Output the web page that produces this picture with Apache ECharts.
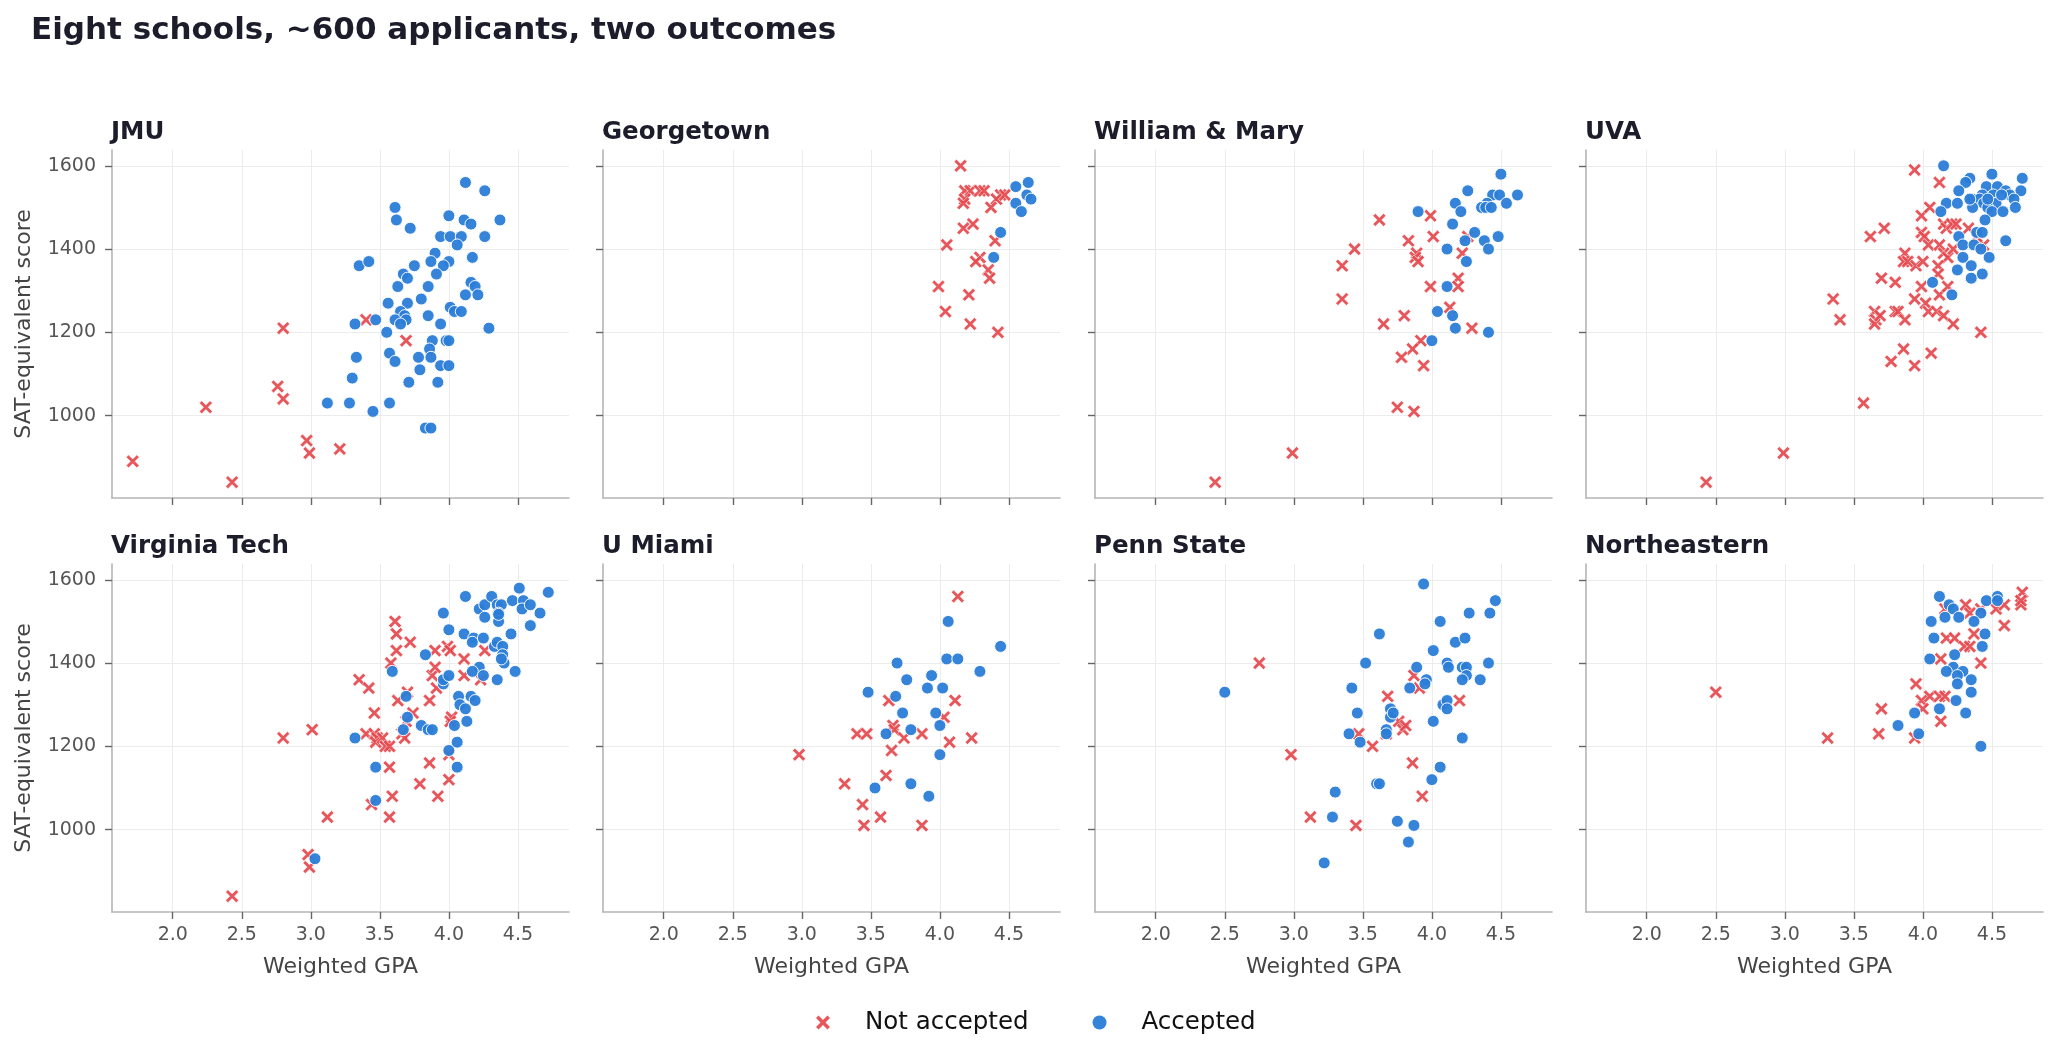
<!DOCTYPE html>
<html>
<head>
<meta charset="utf-8">
<title>Eight schools</title>
<script src="https://cdn.jsdelivr.net/npm/echarts@6/dist/echarts.min.js"></script>
<style>
  html, body { margin: 0; padding: 0; background: #fff; }
  #chart { width: 2059px; height: 1059px; }
</style>
</head>
<body>
<div id="chart"></div>
<script>
// schools in panel order (row by row)
var schools = ['JMU', 'Georgetown', 'William & Mary', 'UVA', 'Virginia Tech', 'U Miami', 'Penn State', 'Northeastern'];
var gpaTicks = [2.0, 2.5, 3.0, 3.5, 4.0, 4.5];
var satTicks = [1000, 1200, 1400, 1600];

// [weighted GPA, SAT-equivalent score]
var jmuRejected = [[1.71,890],[2.24,1020],[2.43,840],[2.80,1210],[2.76,1070],[2.80,1040],[2.97,940],[2.99,910],[3.21,920],[3.40,1230],[3.69,1180]];
var jmuAccepted = [[4.12,1560],[4.26,1540],[3.61,1500],[3.62,1470],[3.72,1450],[4.00,1480],[4.11,1470],[4.16,1460],[4.37,1470],[3.94,1430],[4.01,1430],[4.09,1430],[4.26,1430],[4.06,1410],[3.90,1390],[4.17,1380],[3.35,1360],[3.42,1370],[3.87,1370],[4.00,1370],[3.75,1360],[3.96,1360],[3.67,1340],[3.70,1330],[3.91,1340],[3.63,1310],[3.85,1310],[4.16,1320],[4.19,1310],[4.21,1290],[4.12,1290],[3.80,1280],[3.56,1270],[3.70,1270],[4.01,1260],[4.04,1250],[4.09,1250],[3.65,1250],[3.68,1240],[3.85,1240],[3.61,1230],[3.69,1230],[3.47,1230],[3.32,1220],[3.65,1220],[3.94,1220],[4.29,1210],[3.55,1200],[3.88,1180],[3.98,1180],[4.00,1180],[3.86,1160],[3.33,1140],[3.57,1150],[3.61,1130],[3.78,1140],[3.87,1140],[3.79,1110],[3.94,1120],[4.00,1120],[3.30,1090],[3.71,1080],[3.92,1080],[3.12,1030],[3.28,1030],[3.57,1030],[3.45,1010],[3.83,970],[3.87,970]];

var gtRejected = [[4.15,1600],[4.18,1540],[4.22,1540],[4.29,1540],[4.32,1540],[4.18,1520],[4.44,1530],[4.41,1520],[4.47,1530],[4.17,1510],[4.37,1500],[4.24,1460],[4.17,1450],[4.05,1410],[4.40,1420],[4.29,1380],[4.26,1370],[4.35,1350],[4.36,1330],[3.99,1310],[4.21,1290],[4.04,1250],[4.22,1220],[4.42,1200]];
var gtAccepted = [[4.64,1560],[4.55,1550],[4.63,1530],[4.66,1520],[4.55,1510],[4.59,1490],[4.44,1440],[4.39,1380]];

var wmRejected = [[2.43,840],[2.99,910],[3.35,1360],[3.44,1400],[3.35,1280],[3.62,1470],[3.65,1220],[3.80,1240],[3.83,1420],[3.89,1390],[3.88,1380],[3.90,1370],[3.99,1480],[4.01,1430],[3.99,1310],[3.92,1180],[3.86,1160],[3.78,1140],[3.94,1120],[3.75,1020],[3.87,1010],[4.13,1260],[4.19,1330],[4.19,1310],[4.22,1390],[4.26,1430],[4.29,1210]];
var wmAccepted = [[4.50,1580],[4.26,1540],[4.44,1530],[4.49,1530],[4.62,1530],[4.17,1510],[4.40,1510],[4.54,1510],[4.36,1500],[4.39,1500],[4.43,1500],[3.90,1490],[4.21,1490],[4.15,1460],[4.31,1440],[4.48,1430],[4.24,1420],[4.38,1420],[4.11,1400],[4.41,1400],[4.25,1370],[4.11,1310],[4.04,1250],[4.15,1240],[4.17,1210],[4.41,1200],[4.00,1180]];

var uvaRejected = [[2.43,840],[2.99,910],[3.57,1030],[3.35,1280],[3.40,1230],[3.62,1430],[3.72,1450],[3.94,1590],[4.12,1560],[3.70,1330],[3.80,1320],[3.65,1250],[3.66,1230],[3.65,1220],[3.69,1240],[3.80,1250],[3.82,1250],[3.87,1230],[3.87,1390],[3.86,1370],[3.89,1370],[3.95,1360],[4.00,1370],[3.94,1280],[3.99,1310],[4.02,1270],[4.04,1250],[4.10,1250],[4.12,1290],[4.15,1240],[4.18,1310],[4.22,1220],[4.42,1200],[3.77,1130],[3.86,1160],[3.94,1120],[4.06,1150],[3.99,1480],[4.05,1500],[3.99,1440],[4.01,1430],[4.04,1410],[4.12,1410],[4.15,1460],[4.17,1450],[4.21,1460],[4.24,1460],[4.33,1450],[4.15,1390],[4.18,1380],[4.22,1400],[4.11,1360],[4.11,1340],[4.44,1410],[4.39,1430]];
var uvaAccepted = [[4.15,1600],[4.50,1580],[4.72,1570],[4.34,1570],[4.31,1560],[4.26,1540],[4.46,1550],[4.54,1550],[4.71,1540],[4.60,1540],[4.43,1530],[4.51,1530],[4.63,1530],[4.36,1520],[4.41,1520],[4.66,1520],[4.17,1510],[4.25,1510],[4.44,1510],[4.53,1510],[4.36,1500],[4.47,1500],[4.67,1500],[4.13,1490],[4.50,1490],[4.58,1490],[4.45,1470],[4.26,1430],[4.39,1440],[4.43,1440],[4.29,1410],[4.37,1410],[4.60,1420],[4.42,1400],[4.29,1380],[4.48,1380],[4.35,1360],[4.25,1350],[4.43,1340],[4.35,1330],[4.07,1320],[4.21,1290],[4.34,1520],[4.47,1520],[4.57,1530]];

var vtRejected = [[2.43,840],[2.80,1220],[3.01,1240],[2.98,940],[2.99,910],[3.12,1030],[3.35,1360],[3.42,1340],[3.46,1280],[3.40,1230],[3.46,1230],[3.48,1220],[3.47,1210],[3.52,1220],[3.54,1200],[3.57,1200],[3.44,1060],[3.57,1150],[3.59,1080],[3.57,1030],[3.61,1500],[3.62,1470],[3.62,1430],[3.58,1400],[3.72,1450],[3.63,1310],[3.70,1330],[3.74,1280],[3.66,1230],[3.68,1220],[3.69,1260],[3.79,1110],[3.86,1160],[3.92,1080],[3.86,1310],[3.88,1370],[3.90,1390],[3.91,1340],[3.90,1430],[3.99,1440],[4.01,1430],[4.00,1120],[4.00,1180],[4.02,1270],[4.01,1260],[4.11,1410],[4.11,1370],[4.23,1360],[4.26,1430]];
var vtAccepted = [[3.03,930],[3.32,1220],[3.47,1150],[3.47,1070],[3.59,1380],[3.69,1320],[3.70,1270],[3.67,1240],[3.80,1250],[3.85,1240],[3.88,1240],[3.83,1420],[3.96,1350],[3.96,1360],[4.00,1370],[3.96,1520],[4.00,1480],[4.00,1190],[4.06,1150],[4.06,1210],[4.04,1250],[4.13,1260],[4.07,1320],[4.08,1300],[4.12,1290],[4.16,1320],[4.19,1310],[4.11,1470],[4.18,1460],[4.17,1450],[4.25,1460],[4.22,1390],[4.17,1380],[4.25,1370],[4.35,1360],[4.12,1560],[4.22,1530],[4.26,1540],[4.26,1510],[4.31,1560],[4.35,1540],[4.38,1540],[4.36,1520],[4.36,1500],[4.36,1517],[4.46,1550],[4.51,1580],[4.54,1550],[4.53,1530],[4.59,1540],[4.66,1520],[4.72,1570],[4.59,1490],[4.45,1470],[4.33,1440],[4.35,1450],[4.39,1440],[4.39,1420],[4.40,1400],[4.48,1380],[4.38,1410]];

var umRejected = [[2.98,1180],[3.31,1110],[3.40,1230],[3.47,1230],[3.44,1060],[3.45,1010],[3.57,1030],[3.61,1130],[3.65,1190],[3.63,1310],[3.66,1250],[3.67,1240],[3.74,1220],[3.87,1230],[3.87,1010],[4.03,1270],[4.07,1210],[4.11,1310],[4.13,1560],[4.23,1220]];
var umAccepted = [[4.06,1500],[4.44,1440],[4.05,1410],[4.13,1410],[3.69,1400],[4.29,1380],[3.94,1370],[3.76,1360],[3.91,1340],[4.02,1340],[3.48,1330],[3.68,1320],[3.73,1280],[3.97,1280],[4.00,1250],[3.79,1240],[3.61,1230],[4.00,1180],[3.53,1100],[3.79,1110],[3.92,1080]];

var psRejected = [[2.75,1400],[2.98,1180],[3.12,1030],[3.45,1010],[3.47,1230],[3.57,1200],[3.68,1320],[3.76,1260],[3.79,1240],[3.81,1250],[3.86,1160],[3.87,1370],[3.91,1340],[3.93,1080],[4.20,1310],[3.67,1230]];
var psAccepted = [[2.50,1330],[3.22,920],[3.28,1030],[3.30,1090],[3.40,1230],[3.48,1210],[3.46,1280],[3.42,1340],[3.52,1400],[3.62,1470],[3.60,1110],[3.62,1110],[3.67,1240],[3.67,1230],[3.70,1290],[3.70,1270],[3.72,1280],[3.75,1020],[3.83,970],[3.87,1010],[3.84,1340],[3.89,1390],[3.94,1590],[3.96,1360],[3.95,1350],[4.01,1430],[4.06,1500],[4.01,1260],[4.00,1120],[4.06,1150],[4.08,1300],[4.11,1310],[4.11,1290],[4.11,1400],[4.12,1390],[4.17,1450],[4.24,1460],[4.22,1390],[4.25,1390],[4.25,1370],[4.22,1360],[4.22,1220],[4.27,1520],[4.35,1360],[4.41,1400],[4.42,1520],[4.46,1550]];

var neRejected = [[2.50,1330],[3.31,1220],[3.68,1230],[3.70,1290],[3.94,1220],[3.95,1350],[3.99,1310],[4.00,1290],[4.05,1320],[4.12,1320],[4.16,1320],[4.13,1260],[4.13,1410],[4.17,1460],[4.23,1460],[4.30,1440],[4.34,1440],[4.37,1470],[4.42,1400],[4.31,1540],[4.34,1520],[4.42,1530],[4.53,1530],[4.59,1540],[4.59,1490],[4.71,1540],[4.72,1570],[4.71,1550],[4.16,1530]];
var neAccepted = [[4.12,1560],[4.19,1540],[4.22,1530],[4.16,1510],[4.26,1510],[4.06,1500],[4.42,1520],[4.37,1500],[4.46,1550],[4.54,1560],[4.54,1550],[4.08,1460],[4.45,1470],[4.43,1440],[4.23,1420],[4.05,1410],[4.22,1390],[4.29,1380],[4.17,1380],[4.25,1370],[4.35,1360],[4.25,1350],[4.35,1330],[4.24,1310],[4.12,1290],[3.94,1280],[4.31,1280],[3.82,1250],[3.97,1230],[4.42,1200]];

var rejected = [jmuRejected, gtRejected, wmRejected, uvaRejected, vtRejected, umRejected, psRejected, neRejected];
var accepted = [jmuAccepted, gtAccepted, wmAccepted, uvaAccepted, vtAccepted, umAccepted, psAccepted, neAccepted];

(function () {
    var chartDom = document.getElementById('chart');
    var myChart = echarts.init(chartDom, null, { renderer: 'canvas' });

    var FONT = 'DejaVu Sans';
    var RED = '#e5484d';
    var BLUE = '#2b7dd8';
    var xMark = 'path://M1.8,0 L5,3.2 L8.2,0 L10,1.8 L6.8,5 L10,8.2 L8.2,10 L5,6.8 L1.8,10 L0,8.2 L3.2,5 L0,1.8 Z';

    var lefts = [112, 603, 1095, 1586];
    var tops = [150, 564];
    var W = 457, H = 348;

    var grids = [], xAxes = [], yAxes = [], series = [];
    var titles = [{
        text: 'Eight schools, ~600 applicants, two outcomes',
        left: 31, top: 15, padding: 0,
        textStyle: { fontFamily: FONT, fontSize: 31, fontWeight: 'bold', color: '#1c1c2b' }
    }];

    schools.forEach(function (name, i) {
        var col = i % 4, row = Math.floor(i / 4);
        grids.push({ left: lefts[col], top: tops[row], width: W, height: H, containLabel: false });
        titles.push({
            text: name, left: lefts[col] - 1, top: tops[row] - 30, padding: 0,
            textStyle: { fontFamily: FONT, fontSize: 24.5, fontWeight: 'bold', color: '#1c1c2b' }
        });
        xAxes.push({
            type: 'value', gridIndex: i, min: 1.56, max: 4.87,
            name: row === 1 ? 'Weighted GPA' : '',
            nameLocation: 'middle', nameGap: 44,
            nameTextStyle: { fontFamily: FONT, fontSize: 22, color: '#444' },
            axisLine: { onZero: false, lineStyle: { color: '#b5b5b5', width: 1.6 } },
            axisTick: { show: true, length: 7, customValues: gpaTicks, lineStyle: { color: '#666', width: 1.4 } },
            axisLabel: {
                show: row === 1, customValues: gpaTicks, margin: 14,
                fontFamily: FONT, fontSize: 19, color: '#555',
                formatter: function (v) { return v.toFixed(1); }
            },
            splitLine: { show: true, lineStyle: { color: '#ececec', width: 1 } }
        });
        yAxes.push({
            type: 'value', gridIndex: i, min: 802, max: 1638,
            name: col === 0 ? 'SAT-equivalent score' : '',
            nameLocation: 'middle', nameGap: 77,
            nameTextStyle: { fontFamily: FONT, fontSize: 22, color: '#444' },
            axisLine: { show: true, onZero: false, lineStyle: { color: '#b5b5b5', width: 1.6 } },
            axisTick: { show: true, length: 7, customValues: satTicks, lineStyle: { color: '#666', width: 1.4 } },
            axisLabel: {
                show: col === 0, customValues: satTicks, margin: 16,
                fontFamily: FONT, fontSize: 19, color: '#555',
                formatter: function (v) { return String(v); }
            },
            splitLine: { show: true, lineStyle: { color: '#ececec', width: 1 } }
        });
        series.push({
            name: 'Not accepted', type: 'scatter', xAxisIndex: i, yAxisIndex: i,
            symbol: xMark, symbolSize: 13,
            itemStyle: { color: RED, opacity: 0.92, borderColor: '#fff', borderWidth: 0.6 },
            data: rejected[i]
        });
        series.push({
            name: 'Accepted', type: 'scatter', xAxisIndex: i, yAxisIndex: i,
            symbol: 'circle', symbolSize: 12,
            itemStyle: { color: BLUE, opacity: 0.95, borderColor: '#fff', borderWidth: 1 },
            data: accepted[i]
        });
    });

    var option = {
        animation: false,
        backgroundColor: '#fff',
        title: titles,
        legend: {
            data: [
                { name: 'Not accepted', icon: xMark, itemStyle: { color: RED, borderWidth: 0 } },
                { name: 'Accepted', icon: 'circle', itemStyle: { color: BLUE, borderWidth: 0 } }
            ],
            left: 811, top: 1005,
            itemWidth: 14, itemHeight: 14, itemGap: 64,
            textStyle: { fontFamily: FONT, fontSize: 24.5, color: '#111', padding: [0, 0, 0, 30] }
        },
        grid: grids,
        xAxis: xAxes,
        yAxis: yAxes,
        series: series
    };

    myChart.setOption(option);
    window.addEventListener("resize", function () {
        myChart.resize();
    });
})();
</script>
</body>
</html>
